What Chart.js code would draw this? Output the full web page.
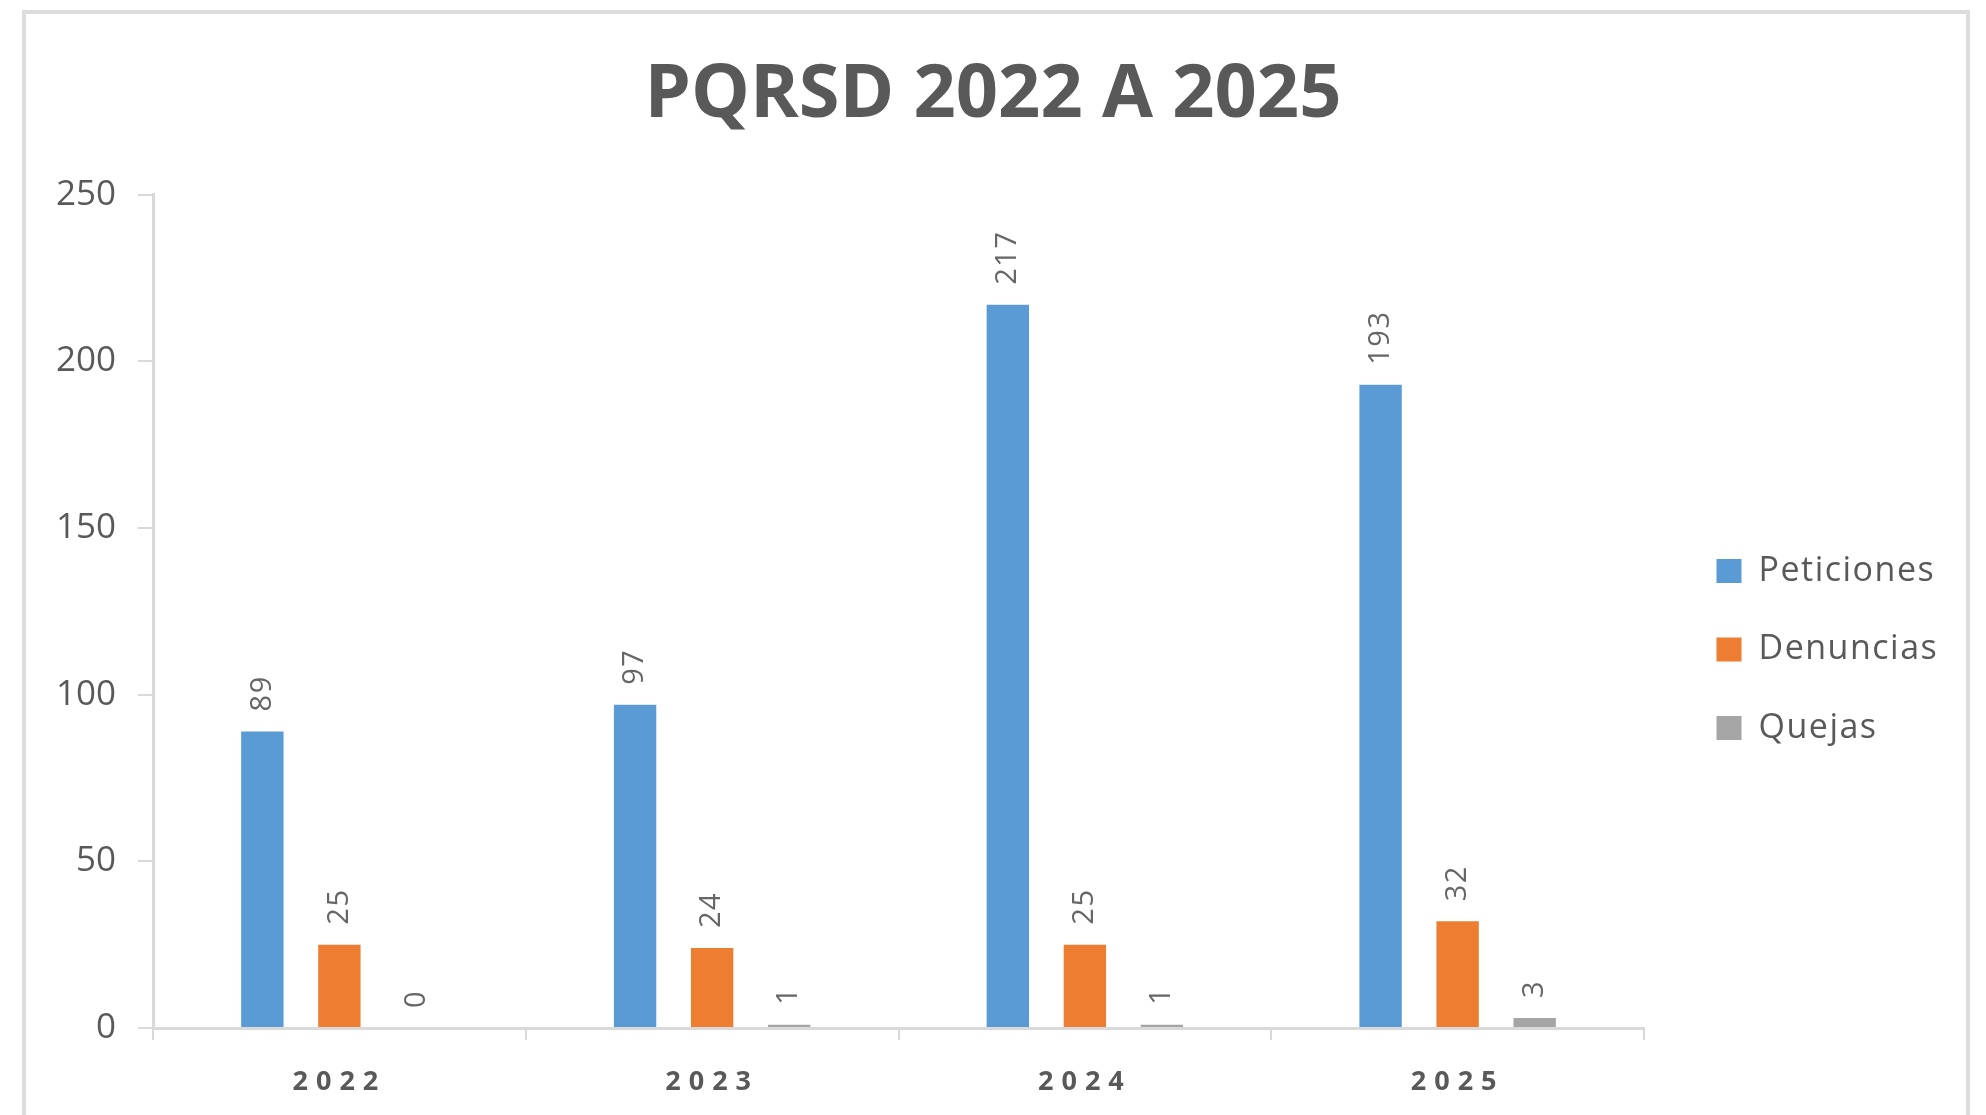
<!DOCTYPE html>
<html><head><meta charset="utf-8">
<script src="https://cdn.jsdelivr.net/npm/chart.js@4.4.1/dist/chart.umd.min.js"></script>
<style>
html,body{margin:0;padding:0;background:#fff;width:1986px;height:1115px;overflow:hidden;}
#frame{position:absolute;left:22px;top:10px;width:1948px;height:1200px;border:4px solid #dcdcdc;box-sizing:border-box;background:#fff;}
#wrap{position:absolute;left:0;top:0;width:1986px;height:1115px;}
</style></head><body>
<div id="frame"></div>
<div id="wrap"><canvas id="c" width="1986" height="1115"></canvas></div>
<script>
const categories = ['2022', '2023', '2024', '2025'];
const peticiones = [89, 97, 217, 193];
const denuncias = [25, 24, 25, 32];
const quejas = [0, 1, 1, 3];
const seriesNames = ['Peticiones', 'Denuncias', 'Quejas'];
const yTicks = [0, 50, 100, 150, 200, 250];
const titleText = 'PQRSD 2022 A 2025';

const TEXT = '#595959';
const AXIS = '#d9d9d9';
const PLOT_RIGHT = 1644;
const X_AXIS_HEIGHT = 87;
const LEGEND_DX = 28;
const LEGEND_DY = 92;

const valueLabels = {
  id: 'valueLabels',
  afterDatasetsDraw(chart) {
    const ctx = chart.ctx;
    ctx.save();
    ctx.font = '29px "Open Sans"';
    ctx.letterSpacing = '1.5px';
    ctx.fillStyle = '#666666';
    ctx.textAlign = 'left';
    ctx.textBaseline = 'middle';
    chart.data.datasets.forEach((ds, i) => {
      const meta = chart.getDatasetMeta(i);
      meta.data.forEach((el, j) => {
        ctx.save();
        ctx.translate(el.x, el.y - 20);
        ctx.rotate(-Math.PI / 2);
        ctx.fillText(String(ds.data[j]), 0, 0);
        ctx.restore();
      });
    });
    ctx.restore();
  }
};

const layoutTweaks = {
  id: 'layoutTweaks',
  beforeLayout(chart) {
    const lg = chart.legend;
    if (lg && !lg._wrappedFit) {
      const f = lg.fit.bind(lg);
      lg.fit = function () { f(); this.width = chart.width - PLOT_RIGHT; };
      const d = lg.draw.bind(lg);
      lg.draw = function () { const c = this.ctx; c.save(); c.letterSpacing = '1.5px'; d(); c.restore(); };
      lg._wrappedFit = true;
    }
    const xs = chart.scales.x;
    if (xs && !xs._wrapped) {
      const orig = xs.drawLabels.bind(xs);
      xs.drawLabels = function (area) {
        const c = this.ctx; c.save(); c.letterSpacing = '8px'; orig(area); c.restore();
      };
      xs._wrapped = true;
    }
  },
  afterLayout(chart) {
    const lg = chart.legend;
    lg.left += LEGEND_DX; lg.right += LEGEND_DX;
    lg.top += LEGEND_DY; lg.bottom += LEGEND_DY;
  }
};

new Chart(document.getElementById('c'), {
  type: 'bar',
  data: {
    labels: categories,
    datasets: [
      { label: seriesNames[0], data: peticiones, backgroundColor: '#5B9BD5' },
      { label: seriesNames[1], data: denuncias, backgroundColor: '#ED7D31' },
      { label: seriesNames[2], data: quejas, backgroundColor: '#A5A5A5' }
    ]
  },
  options: {
    responsive: false,
    devicePixelRatio: 1,
    animation: false,
    layout: { padding: { left: 0, right: 0, top: 0, bottom: 0 } },
    datasets: { bar: { categoryPercentage: 0.62, barPercentage: 0.55 } },
    plugins: {
      title: {
        display: true, text: titleText, color: TEXT,
        font: { family: '"Open Sans"', size: 74, weight: 'bold' },
        padding: { top: 52, bottom: 54 }
      },
      legend: {
        display: true, position: 'right', align: 'center',
        labels: {
          color: TEXT, boxWidth: 25, boxHeight: 24, padding: 44.5,
          font: { family: '"Open Sans"', size: 34 }
        }
      },
      tooltip: { enabled: false }
    },
    scales: {
      x: {
        afterFit: s => { s.height = X_AXIS_HEIGHT; },
        grid: { display: true, offset: true, drawOnChartArea: false, drawTicks: true, tickLength: 12, color: AXIS, lineWidth: 2 },
        border: { display: true, color: AXIS, width: 3 },
        ticks: { color: TEXT, padding: 26, font: { family: '"Open Sans"', size: 27, weight: 'bold' } }
      },
      y: {
        min: 0, max: 250,
        afterBuildTicks: s => { s.ticks = yTicks.map(v => ({ value: v })); },
        afterFit: s => { s.width = 153; },
        grid: { display: true, drawOnChartArea: false, drawTicks: true, tickLength: 15, color: AXIS, lineWidth: 2 },
        border: { display: true, color: AXIS, width: 3 },
        ticks: { color: TEXT, padding: 22, font: { family: '"Open Sans"', size: 35 } }
      }
    }
  },
  plugins: [valueLabels, layoutTweaks]
});
</script>
</body></html>
